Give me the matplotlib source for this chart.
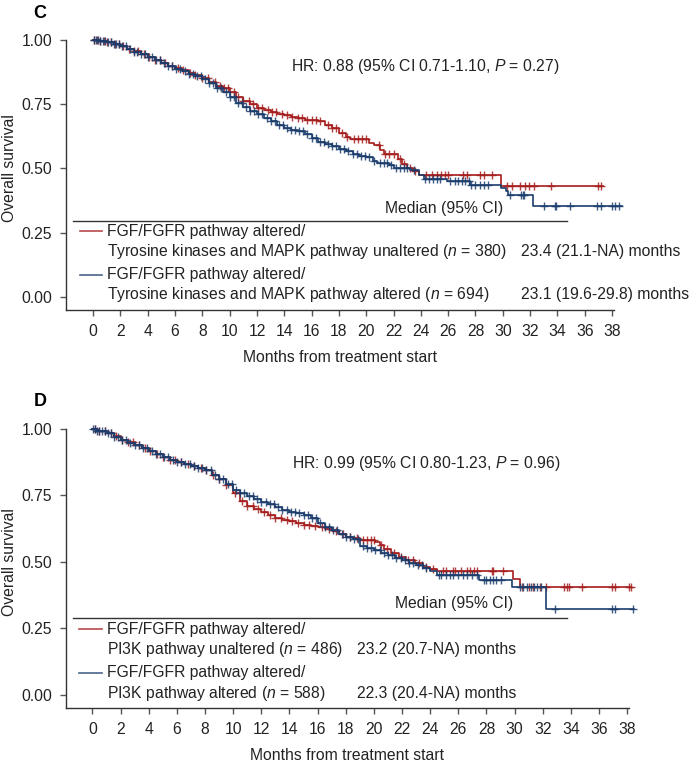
"""Kaplan-Meier overall survival, FGF/FGFR altered subgroups (panels C and D)."""
import numpy as np
import matplotlib
matplotlib.use("Agg")
import matplotlib.pyplot as plt

plt.rcParams["font.family"] = ["Liberation Sans", "DejaVu Sans"]
plt.rcParams["mathtext.fontset"] = "custom"
plt.rcParams["mathtext.rm"] = "Liberation Sans"
plt.rcParams["mathtext.it"] = "Liberation Sans:italic"

RED = "#a51d1d"
BLUE = "#1b3d6d"
FS = 11.3

# ---- panel C: tyrosine kinases / MAPK ----
c_red_t = [0, 0.5, 1, 1.5, 2, 2.5, 3, 3.5, 4, 4.5, 5, 5.5, 6, 6.5, 7, 7.5, 8, 8.5, 9,
           9.5, 10, 10.5, 11, 11.5, 12, 12.5, 13, 13.5, 14, 14.5, 15, 15.5, 16, 16.5,
           17, 17.5, 18, 18.5, 18.8, 20.2, 20.6, 21.0, 21.3, 22.3, 22.6, 23.0, 23.4,
           23.9, 29.9, 37.3]
c_red_s = [1.0, 0.995, 0.99, 0.983, 0.976, 0.965, 0.955, 0.944, 0.934, 0.922, 0.91,
           0.898, 0.889, 0.88, 0.87, 0.862, 0.85, 0.835, 0.818, 0.81, 0.795, 0.778,
           0.762, 0.748, 0.736, 0.726, 0.718, 0.71, 0.706, 0.70, 0.694, 0.688, 0.686,
           0.685, 0.668, 0.655, 0.638, 0.622, 0.612, 0.60, 0.59, 0.57, 0.556, 0.535,
           0.515, 0.503, 0.49, 0.474, 0.431, 0.431]
c_red_cens = [0.1, 0.3, 0.5, 0.8, 1.0, 1.3, 1.6, 1.9, 2.2, 2.6, 3.0, 3.3, 3.7, 4.1, 4.5,
              4.9, 5.3, 5.8, 6.2, 6.6, 7.1, 7.5, 8.0, 8.4, 8.9, 9.3, 9.6, 9.9, 10.3,
              10.6, 11.0, 11.4, 11.7, 12.1, 12.4, 12.8, 13.1, 13.4, 13.8, 14.2, 14.6,
              15.0, 15.3, 15.7, 16.0, 16.3, 16.6, 17.2, 17.5, 17.8, 18.2, 18.6, 19.1,
              19.4, 19.7, 20.0, 20.9, 21.4, 21.7, 22.0, 22.5, 22.8, 23.2, 23.6, 24.4,
              24.8, 25.2, 25.5, 25.8, 26.0, 27.1, 27.35, 28.3, 28.6, 29.2, 30.3, 30.65,
              31.26, 31.6, 31.9, 32.3, 33.5, 37.0, 37.2]

c_blue_t = [0, 0.5, 1, 1.5, 2, 2.5, 3, 3.5, 4, 4.5, 5, 5.5, 6, 6.5, 7, 7.5, 8, 8.5, 9,
            9.5, 10, 10.5, 11, 11.5, 12, 12.5, 13, 13.5, 14, 14.5, 15, 15.5, 16, 16.5,
            17, 17.5, 18, 18.5, 19, 19.5, 20, 20.5, 20.8, 21.7, 22.0, 23.2, 23.9, 24.2,
            25.9, 27.6, 29.9, 30.2, 30.4, 32.2, 38.7]
c_blue_s = [1.0, 0.995, 0.99, 0.982, 0.974, 0.964, 0.953, 0.942, 0.932, 0.921, 0.909,
            0.897, 0.887, 0.878, 0.868, 0.86, 0.848, 0.832, 0.813, 0.795, 0.775, 0.755,
            0.738, 0.723, 0.71, 0.696, 0.683, 0.67, 0.657, 0.65, 0.643, 0.632, 0.618,
            0.604, 0.596, 0.588, 0.576, 0.566, 0.556, 0.548, 0.542, 0.53, 0.522, 0.513,
            0.50, 0.493, 0.474, 0.458, 0.45, 0.437, 0.422, 0.413, 0.396, 0.353, 0.353]
c_blue_cens = [0.05, 0.2, 0.35, 0.5, 0.7, 0.9, 1.1, 1.3, 1.5, 1.7, 1.9, 2.1, 2.4, 2.7,
               3.0, 3.2, 3.5, 3.8, 4.0, 4.3, 4.6, 4.9, 5.2, 5.5, 5.8, 6.1, 6.4, 6.7, 7.0,
               7.3, 7.6, 7.9, 8.2, 8.5, 8.8, 9.1, 9.4, 9.7, 10.0, 10.3, 10.6, 10.9, 11.2,
               11.5, 11.8, 12.1, 12.4, 12.7, 13.0, 13.3, 13.6, 13.9, 14.2, 14.5, 14.8,
               15.1, 15.4, 15.7, 16.0, 16.3, 16.6, 16.9, 17.2, 17.5, 17.8, 18.1, 18.4,
               18.7, 19.0, 19.3, 19.6, 19.9, 20.2, 20.6, 21.0, 21.3, 21.5, 21.8, 22.2,
               22.5, 22.8, 23.0, 23.5, 24.3, 24.6, 24.9, 25.2, 25.4, 26.1, 26.5, 26.7,
               27.0, 27.2, 27.5, 27.7, 28.0, 28.3, 28.6, 28.9, 30.5, 31.3, 31.45, 31.55,
               33.0, 33.8, 33.9, 34.9, 36.9, 37.2, 38.0, 38.2, 38.5]

# ---- panel D: PI3K ----
d_red_t = [0, 0.3, 1, 1.5, 2, 2.5, 3, 3.5, 4, 4.5, 5, 5.5, 6, 6.5, 7, 7.5, 8, 8.5, 9,
           9.5, 10, 10.5, 11, 11.5, 12, 12.5, 13, 13.5, 14, 14.5, 15, 15.5, 16, 16.5,
           17, 17.5, 18, 18.5, 19.0, 20.1, 20.4, 20.7, 21.2, 21.8, 22.3, 22.9, 23.5,
           24.0, 24.5, 29.9, 30.4, 38.3]
d_red_s = [1.0, 0.992, 0.985, 0.972, 0.96, 0.95, 0.94, 0.93, 0.918, 0.906, 0.896,
           0.885, 0.876, 0.869, 0.862, 0.855, 0.845, 0.828, 0.81, 0.79, 0.76, 0.728,
           0.712, 0.70, 0.686, 0.675, 0.665, 0.658, 0.652, 0.647, 0.64, 0.635, 0.63,
           0.625, 0.617, 0.604, 0.594, 0.588, 0.584, 0.575, 0.562, 0.55, 0.535, 0.52,
           0.507, 0.494, 0.481, 0.472, 0.466, 0.436, 0.407, 0.407]
d_red_cens = [0.2, 0.5, 0.9, 1.3, 1.7, 2.1, 2.5, 2.9, 3.3, 3.7, 4.1, 4.6, 5.0, 5.5, 5.9,
              6.3, 6.8, 7.2, 7.7, 8.1, 8.6, 9.0, 9.5, 10.1, 10.6, 11.0, 11.4, 11.8, 12.2,
              12.6, 13.0, 13.4, 13.8, 14.2, 14.6, 15.0, 15.4, 15.8, 16.3, 16.8, 17.3,
              17.8, 18.3, 18.8, 19.2, 19.5, 19.8, 20.0, 20.5, 20.9, 21.4, 21.9, 22.4,
              22.8, 23.2, 23.7, 24.2, 24.9, 25.1, 25.6, 25.8, 26.2, 26.6, 26.8, 27.1,
              27.3, 28.4, 28.5, 29.2, 30.5, 31.0, 31.3, 31.8, 32.2, 33.5, 33.7, 33.9,
              34.8, 36.9, 37.1, 38.1, 38.25]

d_blue_t = [0, 0.3, 1, 1.5, 2, 2.5, 3, 3.5, 4, 4.5, 5, 5.5, 6, 6.5, 7, 7.5, 8, 8.5, 9,
            9.5, 10, 10.5, 11, 11.5, 12, 12.5, 13, 13.5, 14, 14.5, 15, 15.5, 16, 16.5,
            17, 17.5, 18, 18.5, 19, 19.5, 20, 20.5, 21, 21.5, 22, 22.5, 23, 23.5, 24.0,
            24.5, 27.5, 29.8, 32.2, 38.5]
d_blue_s = [1.0, 0.992, 0.984, 0.971, 0.959, 0.949, 0.939, 0.929, 0.917, 0.905, 0.895,
            0.884, 0.875, 0.868, 0.861, 0.854, 0.844, 0.828, 0.811, 0.792, 0.772, 0.758,
            0.747, 0.737, 0.727, 0.716, 0.706, 0.697, 0.688, 0.682, 0.675, 0.665, 0.648,
            0.633, 0.62, 0.604, 0.595, 0.585, 0.56, 0.552, 0.544, 0.535, 0.525, 0.515,
            0.506, 0.497, 0.488, 0.478, 0.466, 0.451, 0.432, 0.404, 0.323, 0.323]
d_blue_cens = [0.05, 0.2, 0.35, 0.5, 0.7, 0.9, 1.1, 1.3, 1.5, 1.8, 2.1, 2.4, 2.7, 3.0,
               3.3, 3.6, 3.9, 4.2, 4.5, 4.8, 5.1, 5.4, 5.7, 6.0, 6.3, 6.6, 6.9, 7.2, 7.5,
               7.8, 8.1, 8.4, 8.7, 9.0, 9.3, 9.6, 9.9, 10.2, 10.5, 10.8, 11.1, 11.4,
               11.7, 12.0, 12.3, 12.6, 12.9, 13.2, 13.5, 13.8, 14.1, 14.4, 14.7, 15.0,
               15.3, 15.6, 15.9, 16.2, 16.5, 16.8, 17.1, 17.4, 17.7, 18.0, 18.3, 18.6,
               18.9, 19.2, 19.5, 19.8, 20.1, 20.4, 20.7, 21.0, 21.3, 21.6, 21.9, 22.2,
               22.5, 22.8, 23.1, 23.4, 23.7, 24.6, 24.8, 25.1, 25.4, 25.6, 26.0, 26.3,
               26.6, 27.0, 27.3, 27.8, 28.0, 28.25, 28.5, 28.7, 29.0, 30.4, 30.6, 30.9,
               31.2, 31.4, 31.6, 31.9, 32.9, 36.9, 37.1, 38.4]


def _surv_at(t, s, tc):
    """Survival value of a step curve at the censoring times."""
    idx = np.searchsorted(t, tc, side="right") - 1
    return np.asarray(s)[idx]


def draw_panel(ax, curves, xlim, hr_text, hr_xy, median_xy, sep, legend, med_x):
    for t, s, cens, color in curves:
        ax.step(t, s, where="post", color=color, lw=1.2, clip_on=False, zorder=3)
        ax.plot(cens, _surv_at(t, s, cens), ls="none", marker="+", ms=5.5, mew=1.0,
                color=color, alpha=0.85, clip_on=False, zorder=3)

    ax.set_xlim(*xlim)
    ax.set_ylim(-0.05, 1.0)
    ax.set_xticks(np.arange(0, 39, 2))
    ax.set_yticks([0, 0.25, 0.5, 0.75, 1.0])
    ax.set_yticklabels(["0.00", "0.25", "0.50", "0.75", "1.00"])
    ax.spines["top"].set_visible(False)
    ax.spines["right"].set_visible(False)
    for sp in ("left", "bottom"):
        ax.spines[sp].set_color("#333333")
        ax.spines[sp].set_linewidth(1.0)
    ax.tick_params(direction="out", length=4, width=1, color="#555555",
                   labelsize=FS, labelcolor="#222222", pad=6)
    ax.set_xlabel("Months from treatment start", fontsize=FS, color="#222222", labelpad=8)

    ax.text(hr_xy[0], hr_xy[1], hr_text, fontsize=FS, color="#222222", va="center")
    ax.text(median_xy[0], median_xy[1], "Median (95% CI)", fontsize=FS, color="#222222",
            ha="right", va="center")
    ax.plot([sep[0], sep[1]], [sep[2], sep[2]], color="#333333", lw=1.0, clip_on=False)

    for color, y1, y2, line1, line2, med in legend:
        ax.plot([-0.98, 0.65], [y1, y1], color=color, lw=1.2, alpha=0.8, clip_on=False)
        ax.text(1.03, y1, line1, fontsize=FS, color="#222222", va="center", clip_on=False)
        ax.text(1.03, y2, line2, fontsize=FS, color="#222222", va="center", clip_on=False)
        ax.text(med_x, y2, med, fontsize=FS, color="#222222", va="center", clip_on=False)


fig = plt.figure(figsize=(6.91, 7.63), dpi=100)

ax_c = fig.add_axes([66 / 691, 1 - 310 / 763, 548 / 691, 270.5 / 763])
draw_panel(
    ax_c,
    [(c_red_t, c_red_s, c_red_cens, RED), (c_blue_t, c_blue_s, c_blue_cens, BLUE)],
    (-1.98, 38.14),
    r"HR: 0.88 (95% CI 0.71-1.10, $\mathit{P}$ = 0.27)", (14.5, 0.895),
    (30.0, 0.344), (-1.46, 34.7, 0.296),
    [(RED, 0.256, 0.178, "FGF/FGFR pathway altered/",
      r"Tyrosine kinases and MAPK pathway unaltered ($\mathit{n}$ = 380)",
      "23.4 (21.1-NA) months"),
     (BLUE, 0.087, 0.009, "FGF/FGFR pathway altered/",
      r"Tyrosine kinases and MAPK pathway altered ($\mathit{n}$ = 694)",
      "23.1 (19.6-29.8) months")],
    31.3,
)

ax_d = fig.add_axes([66 / 691, 1 - 708 / 763, 563 / 691, 279 / 763])
draw_panel(
    ax_d,
    [(d_red_t, d_red_s, d_red_cens, RED), (d_blue_t, d_blue_s, d_blue_cens, BLUE)],
    (-1.88, 38.13),
    r"HR: 0.99 (95% CI 0.80-1.23, $\mathit{P}$ = 0.96)", (14.15, 0.871),
    (29.9, 0.345), (-1.39, 33.7, 0.29),
    [(RED, 0.247, 0.169, "FGF/FGFR pathway altered/",
      r"PI3K pathway unaltered ($\mathit{n}$ = 486)", "23.2 (20.7-NA) months"),
     (BLUE, 0.082, 0.004, "FGF/FGFR pathway altered/",
      r"PI3K pathway altered ($\mathit{n}$ = 588)", "22.3 (20.4-NA) months")],
    18.8,
)

ax_c.set_ylabel("Overall survival", fontsize=FS, color="#222222")
ax_c.yaxis.set_label_coords(-0.089, (0.5 + 0.05) / 1.05)
ax_d.set_ylabel("Overall survival", fontsize=FS, color="#222222")
ax_d.yaxis.set_label_coords(-0.087, (0.5 + 0.05) / 1.05)

fig.text(40 / 691, 1 - 13 / 763, "C", fontsize=13, fontweight="bold", ha="center", va="center")
fig.text(40 / 691, 1 - 401 / 763, "D", fontsize=13, fontweight="bold", ha="center", va="center")

fig.savefig("out.png", dpi=100)
